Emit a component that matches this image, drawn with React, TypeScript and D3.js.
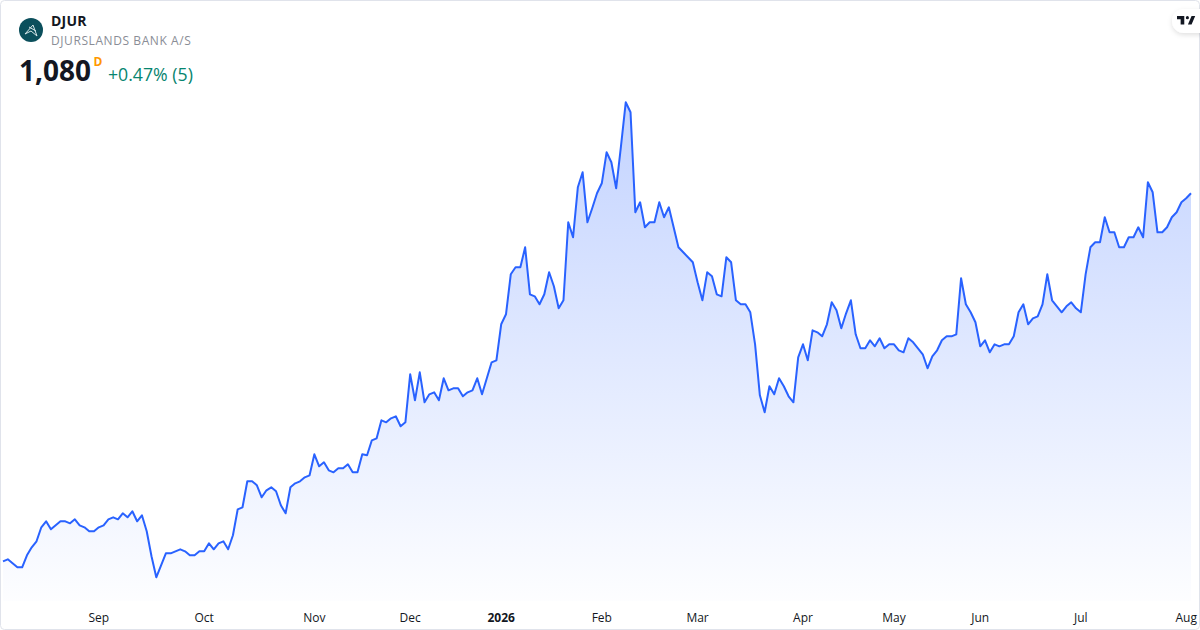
import { useEffect, useRef } from "react";
import * as d3 from "d3";

// daily closes, Aug 2025 - Aug 2026
const closes = [
  712, 714, 710, 706, 706, 718, 726, 732, 746, 752, 744, 748, 752, 752, 750, 754, 748, 746, 742, 742,
  746, 748, 754, 756, 754, 760, 756, 762, 752, 758, 742, 717, 696, 708, 720, 720, 722, 724, 722, 718,
  718, 722, 722, 730, 724, 730, 732, 724, 738, 764, 766, 792, 792, 788, 776, 783, 786, 782, 768, 760,
  786, 790, 792, 796, 798, 819, 807, 811, 803, 801, 805, 805, 809, 801, 801, 819, 818, 833, 835, 853,
  851, 855, 857, 847, 851, 899, 873, 901, 871, 879, 881, 873, 895, 883, 885, 885, 877, 881, 883, 895,
  879, 895, 911, 913, 949, 959, 999, 1006, 1006, 1026, 979, 977, 969, 979, 1001, 987, 965, 973, 1051, 1036,
  1086, 1101, 1051, 1065, 1080, 1090, 1121, 1111, 1085, 1127, 1171, 1161, 1061, 1071, 1046, 1051, 1051, 1071, 1056, 1066,
  1046, 1026, 1021, 1016, 1011, 991, 973, 1001, 997, 979, 977, 1016, 1011, 973, 969, 969, 961, 929, 878, 861,
  887, 879, 895, 887, 877, 871, 916, 929, 913, 943, 941, 937, 949, 971, 963, 945, 960, 973, 939, 925,
  925, 933, 927, 935, 925, 929, 929, 923, 921, 935, 931, 925, 919, 905, 917, 923, 933, 937, 937, 939,
  995, 969, 961, 951, 927, 933, 921, 929, 927, 929, 929, 937, 961, 969, 949, 955, 957, 969, 999, 973,
  967, 961, 967, 971, 965, 961, 999, 1026, 1031, 1031, 1056, 1041, 1041, 1026, 1026, 1036, 1036, 1046, 1036, 1091,
  1081, 1041, 1041, 1046, 1056, 1061, 1071, 1075, 1080,
];

const tickLabels = ["Sep", "Oct", "Nov", "Dec", "2026", "Feb", "Mar", "Apr", "May", "Jun", "Jul", "Aug"];
const tickSessions = [20, 42, 65, 85, 104, 125, 145, 167, 186, 204, 225, 247];

const width = 1200;
const height = 630;
const paneBottom = 601;

const App = () => {
  const svgRef = useRef<SVGSVGElement | null>(null);

  useEffect(() => {
    const svg = d3.select(svgRef.current);
    svg.selectAll("*").remove();

    const x = d3.scaleLinear().domain([0, closes.length - 1]).range([3, 1191]);
    const y = d3.scaleLinear().domain([1273.3, 643.3]).range([0, height]);

    const defs = svg.append("defs");
    const grad = defs
      .append("linearGradient")
      .attr("id", "fill")
      .attr("gradientUnits", "userSpaceOnUse")
      .attr("x1", 0)
      .attr("x2", 0)
      .attr("y1", y(d3.max(closes) || 0))
      .attr("y2", paneBottom);
    grad.append("stop").attr("offset", 0).attr("stop-color", "#2962ff").attr("stop-opacity", 0.28);
    grad.append("stop").attr("offset", 1).attr("stop-color", "#2962ff").attr("stop-opacity", 0.01);

    const shadow = defs
      .append("filter")
      .attr("id", "pill-shadow")
      .attr("x", "-50%")
      .attr("y", "-50%")
      .attr("width", "200%")
      .attr("height", "200%");
    shadow
      .append("feDropShadow")
      .attr("dx", 0)
      .attr("dy", 2)
      .attr("stdDeviation", 2.5)
      .attr("flood-color", "#000")
      .attr("flood-opacity", 0.12);

    svg.append("rect").attr("width", width).attr("height", height).attr("fill", "#fff");

    const area = d3
      .area<number>()
      .x((_, i) => x(i))
      .y0(paneBottom)
      .y1((d) => y(d));
    const line = d3
      .line<number>()
      .x((_, i) => x(i))
      .y((d) => y(d));

    svg.append("path").datum(closes).attr("d", area).attr("fill", "url(#fill)");
    svg
      .append("path")
      .datum(closes)
      .attr("d", line)
      .attr("fill", "none")
      .attr("stroke", "#2962ff")
      .attr("stroke-width", 2)
      .attr("stroke-linejoin", "round");

    const xAxis = d3
      .axisBottom(x)
      .offset(0)
      .tickValues(tickSessions)
      .tickSize(0)
      .tickPadding(0)
      .tickFormat((_, i) => tickLabels[i]);
    const axisG = svg.append("g").attr("transform", "translate(0,613)").call(xAxis);
    axisG.select(".domain").remove();
    axisG
      .selectAll("text")
      .attr("font-family", "'Open Sans', sans-serif")
      .attr("font-size", 12)
      .attr("fill", "#131722")
      .attr("font-weight", (_, i) => (tickLabels[i] === "2026" ? 700 : 400));

    // card border
    svg
      .append("rect")
      .attr("x", 0.5)
      .attr("y", 0.5)
      .attr("width", width - 1)
      .attr("height", height - 1)
      .attr("rx", 4)
      .attr("fill", "none")
      .attr("stroke", "#e0e3eb");

    // tradingview pill, runs off the right edge
    svg
      .append("rect")
      .attr("x", 1172)
      .attr("y", 9)
      .attr("width", 44)
      .attr("height", 24)
      .attr("rx", 12)
      .attr("fill", "#fff")
      .attr("filter", "url(#pill-shadow)");
    svg
      .append("path")
      .attr("transform", "translate(1177,13) scale(0.52)")
      .attr("d", "M14 6H0v6h7v10h7V6zm14 16h-7L28 6h7l-7 16zm-8-16a3 3 0 1 1 0 6 3 3 0 0 1 0-6z")
      .attr("fill", "#131722");

    // symbol logo
    svg.append("circle").attr("cx", 31).attr("cy", 30).attr("r", 12).attr("fill", "#0b4f5c");
    svg
      .append("path")
      .attr("d", "M25 34 L33 25 L37 36 L31 31 Z M29 27 L36 31")
      .attr("fill", "none")
      .attr("stroke", "#d7e6e8")
      .attr("stroke-width", 1);

    const text = (tx: number, ty: number, s: string, size: number, color: string, weight = 400, ls = 0) =>
      svg
        .append("text")
        .attr("x", tx)
        .attr("y", ty)
        .attr("font-family", "'Open Sans', sans-serif")
        .attr("font-size", size)
        .attr("font-weight", weight)
        .attr("letter-spacing", ls)
        .attr("fill", color)
        .text(s);

    text(51, 26, "DJUR", 14, "#131722", 700, 0.2);
    text(51, 45, "DJURSLANDS BANK A/S", 12, "#8a8d96", 400, 0.58);
    text(19, 81, "1,080", 28, "#131722", 700);
    text(93.5, 66, "D", 12, "#ff9800", 700);
    text(108, 81, "+0.47% (5)", 17.7, "#07856f");
  }, []);

  return (
    <svg
      ref={svgRef}
      width={width}
      height={height}
      style={{ position: "absolute", left: 0, top: 0, display: "block" }}
    />
  );
};

export default App;
